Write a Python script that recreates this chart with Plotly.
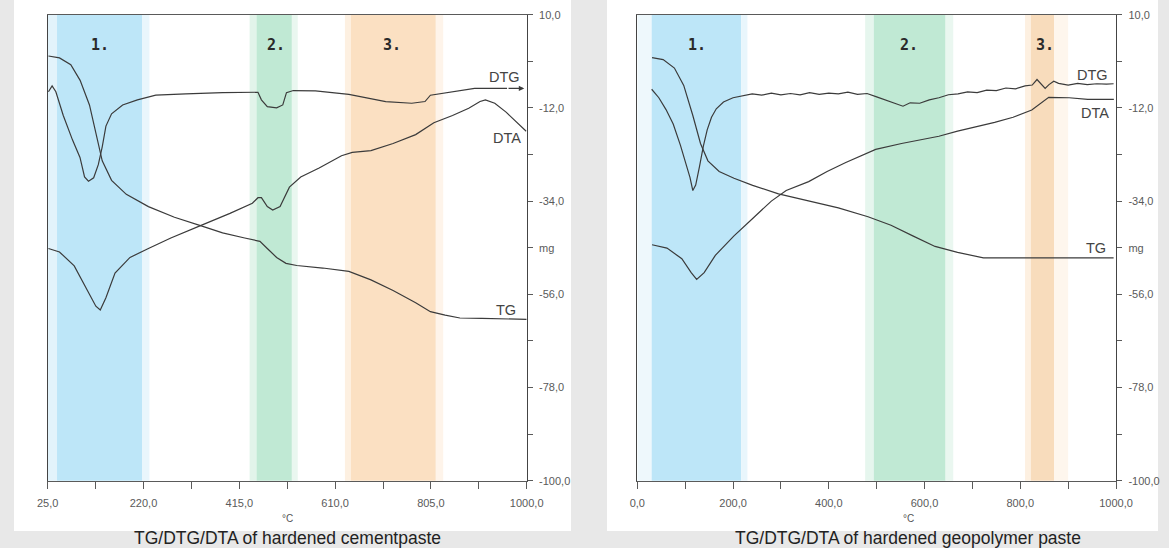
import plotly.graph_objects as go

W, H = 1169, 548

# ---------------- data: hardened cement paste (left) ----------------
cem_tg_t = [26.5, 49, 72, 91, 110, 126, 136, 155, 185, 230, 283, 336, 381, 426, 457, 472, 491, 510, 532, 585, 638, 683, 728, 774, 804, 834, 864, 909, 1000]
cem_tg_v = [0.25, -0.2, -1.8, -5.5, -11.3, -19.6, -24.5, -29.1, -32.4, -35.3, -37.8, -39.8, -41.5, -42.7, -43.5, -45.2, -47.3, -48.7, -49.2, -49.8, -50.6, -52.6, -55.1, -58.0, -60.1, -60.9, -61.6, -61.7, -61.9]

cem_dtg_t = [26.5, 34, 41.6, 56.7, 75.6, 90.7, 100, 108, 118.6, 128, 136, 143.5, 155, 177.5, 207.6, 245, 306, 381, 453, 460, 472, 491, 503.5, 511, 525, 570, 638, 713, 766, 793, 804, 849, 894, 960]
cem_dtg_v = [-8.2, -6.8, -8.2, -13.8, -19.6, -23.7, -28.3, -29.3, -28.5, -25.4, -21.2, -16.3, -13.4, -11.3, -10.1, -9.0, -8.7, -8.4, -8.3, -10.1, -11.7, -12.0, -11.3, -8.4, -7.9, -8.0, -8.8, -10.5, -10.9, -10.5, -9.0, -8.2, -7.4, -7.4]

cem_dta_t = [26.5, 49, 79, 105, 123, 132, 143.5, 162, 192.5, 230, 275.6, 336, 396, 441.6, 453, 460, 472, 483, 498, 517, 540, 577.5, 623, 645, 683, 728, 774, 811, 849, 882, 905, 916, 935, 958, 988, 999]
cem_dta_v = [-45.2, -46.0, -49.3, -55.1, -58.8, -59.7, -56.8, -51.0, -47.3, -45.2, -42.7, -39.8, -36.9, -34.5, -33.2, -33.2, -35.3, -36.1, -35.3, -30.7, -28.3, -26.2, -23.3, -22.5, -22.1, -20.4, -18.3, -15.5, -13.8, -12.1, -10.5, -10.1, -10.9, -13.0, -16.3, -17.5]

cem_x_ticks = [25, 122.5, 220, 317.5, 415, 512.5, 610, 707.5, 805, 902.5, 1000]
cem_x_text = ["25,0", "", "220,0", "", "415,0", "", "610,0", "", "805,0", "", "1000,0"]
cem_bands = [  # (start, end, colour)
    (25, 44, "#e2f3fb"), (44, 217, "#bde6f8"), (217, 232, "#e9f6fc"),
    (436, 450, "#e2f4ea"), (450, 522, "#c0e9d4"), (522, 534, "#eaf7f0"),
    (630, 642, "#fdf0e1"), (642, 815, "#fbe0c2"), (815, 830, "#fef4ea"),
]
cem_band_labels = ["1.", "2.", "3."]
cem_band_label_t = [131, 489, 726]

# ---------------- data: hardened geopolymer paste (right) ----------------
geo_tg_t = [30.8, 54, 77.5, 97, 116, 132, 147.5, 171, 202, 241, 295, 358, 420, 482, 530, 575.5, 622, 669, 723, 824, 995]
geo_tg_v = [-0.15, -0.6, -2.6, -6.7, -13.8, -20.4, -24.5, -27.0, -28.6, -30.3, -32.3, -34.0, -35.6, -37.7, -39.7, -42.2, -44.7, -46.1, -47.4, -47.4, -47.4]

geo_dtg_t = [30, 45, 60, 75, 90, 100, 110, 116, 122, 130, 138, 146, 155, 165, 180, 200, 220, 240, 260, 280, 300, 320, 340, 360, 380, 400, 420, 440, 460, 480, 500, 520, 540, 555, 570, 590, 610, 630, 650, 670, 690, 710, 730, 750, 770, 790, 810, 825, 835, 845, 852, 860, 870, 880, 900, 920, 940, 960, 980, 995]
geo_dtg_v = [-7.6, -9.6, -12.4, -15.8, -20.8, -24.6, -28.4, -31.5, -30.2, -25.8, -21.0, -17.2, -14.2, -12.2, -10.6, -9.6, -9.1, -8.7, -9.0, -8.5, -8.9, -8.6, -8.9, -8.4, -8.8, -8.5, -8.7, -8.3, -8.8, -8.6, -9.4, -10.2, -10.9, -11.6, -10.8, -10.9, -10.1, -9.6, -8.9, -8.7, -8.2, -8.4, -7.8, -7.9, -7.3, -7.5, -6.8, -6.6, -5.3, -6.4, -7.4, -6.5, -5.7, -6.2, -6.6, -6.2, -6.5, -6.3, -6.4, -6.3]

geo_dta_t = [30.8, 62, 93, 112.6, 124, 139.7, 163, 202, 241, 280, 311, 358, 396.5, 435.5, 498, 552, 630, 669, 746.5, 785, 824, 844, 859.5, 902, 941, 995.5]
geo_dta_v = [-44.3, -45.1, -47.6, -50.9, -52.5, -50.9, -46.8, -42.2, -38.1, -34.0, -31.5, -29.4, -27.0, -24.9, -21.8, -20.4, -18.7, -17.5, -15.4, -14.2, -12.5, -10.9, -9.5, -9.6, -10.0, -10.0]

geo_x_ticks = [0, 100, 200, 300, 400, 500, 600, 700, 800, 900, 1000]
geo_x_text = ["0,0", "", "200,0", "", "400,0", "", "600,0", "", "800,0", "", "1000,0"]
geo_bands = [
    (0, 30, "#eef8fc"), (30, 217, "#bde6f8"), (217, 230, "#e9f6fc"),
    (476, 494, "#e6f6ee"), (494, 644, "#c0e9d4"), (644, 660, "#eaf7f0"),
    (810, 822, "#fdf0e1"), (822, 871, "#f8dcbc"), (871, 900, "#fef6ed"),
]
geo_band_labels = ["1.", "2.", "3."]
geo_band_label_t = [124, 567, 852]

# shared y axis (mg)
y_ticks = [10, -1, -12, -23, -34, -45, -56, -67, -78, -89, -100]
y_text = ["10,0", "", "-12,0", "", "-34,0", "mg", "-56,0", "", "-78,0", "", "-100,0"]

titles = ["TG/DTG/DTA of hardened cementpaste", "TG/DTG/DTA of hardened geopolymer paste"]
curve_names = ["DTG", "DTA", "TG"]
cem_name_pos = [(990, -4.7), (992, -19.1), (983, -59.7)]
geo_name_pos = [(987, -4.2), (989, -13.3), (983, -45.1)]

# ---------------- figure ----------------
LINE = dict(color="#3b3b3b", width=1.2)
fig = go.Figure()
for xs, ys in [(cem_tg_t, cem_tg_v), (cem_dtg_t, cem_dtg_v), (cem_dta_t, cem_dta_v)]:
    fig.add_trace(go.Scatter(x=xs, y=ys, xaxis="x", yaxis="y", mode="lines",
                             line=LINE, hoverinfo="skip", showlegend=False))
for xs, ys in [(geo_tg_t, geo_tg_v), (geo_dtg_t, geo_dtg_v), (geo_dta_t, geo_dta_v)]:
    fig.add_trace(go.Scatter(x=xs, y=ys, xaxis="x2", yaxis="y2", mode="lines",
                             line=LINE, hoverinfo="skip", showlegend=False))

def px2paper(px, py):
    return px / W, 1 - py / H

xl0, xl1 = 47.7 / W, 526.7 / W
xr0, xr1 = 637.3 / W, 1116.0 / W
yb, yt = 1 - 480.7 / H, 1 - 14.7 / H

TICKFONT = dict(family="Liberation Sans, Arial", size=11, color="#5a5a5a")
AXLINE = "#5a5a5a"

def xaxis_cfg(domain, rng, tv, tt, anchor):
    return dict(domain=domain, range=rng, anchor=anchor, tickmode="array",
                tickvals=tv, ticktext=tt, ticks="outside", ticklen=7, tickwidth=1,
                tickcolor=AXLINE, showline=True, linecolor=AXLINE, linewidth=1,
                mirror=True, showgrid=False, zeroline=False, tickfont=TICKFONT,
                ticklabelstandoff=5, fixedrange=True, automargin=False)

def yaxis_cfg(anchor):
    return dict(domain=[yb, yt], range=[-100, 10], anchor=anchor, side="right",
                tickmode="array", tickvals=y_ticks, ticktext=y_text, ticks="outside",
                ticklen=5, tickwidth=1, tickcolor=AXLINE, showline=True,
                linecolor="#444444", linewidth=1.4, mirror=True, showgrid=False,
                zeroline=False, tickfont=TICKFONT, ticklabelstandoff=4, fixedrange=True,
                automargin=False)

shapes = []
# background cards
for (a, b) in [(14, 571), (607, 1158)]:
    x0, y0 = px2paper(a, 531)
    x1, y1 = px2paper(b, 0)
    shapes.append(dict(type="rect", xref="paper", yref="paper", x0=x0, x1=x1, y0=y0, y1=y1,
                       fillcolor="white", line=dict(width=0), layer="below"))
# coloured bands
for bands, xr, yr in [(cem_bands, "x", "y domain"), (geo_bands, "x2", "y2 domain")]:
    for s, e, c in bands:
        shapes.append(dict(type="rect", xref=xr, yref=yr, x0=s, x1=e, y0=0, y1=1,
                           fillcolor=c, line=dict(width=0), layer="below"))

annotations = []
for labels, ts, xr, yr in [(cem_band_labels, cem_band_label_t, "x", "y"),
                           (geo_band_labels, geo_band_label_t, "x2", "y2")]:
    for lab, t in zip(labels, ts):
        annotations.append(dict(x=t, y=2.8, xref=xr, yref=yr, text="<b>" + lab + "</b>",
                                showarrow=False, xanchor="center", yanchor="middle",
                                font=dict(family="DejaVu Sans Mono", size=15, color="#2a2a2a")))
for pos, xr, yr in [(cem_name_pos, "x", "y"), (geo_name_pos, "x2", "y2")]:
    for name, (t, v) in zip(curve_names, pos):
        annotations.append(dict(x=t, y=v, xref=xr, yref=yr, text=name, xanchor="right",
                                yanchor="middle", showarrow=False,
                                font=dict(family="Liberation Sans, Arial", size=14.5, color="#444444")))
# arrow at end of cement DTG
annotations.append(dict(x=995, y=-7.4, ax=960, ay=-7.4, xref="x", yref="y", axref="x", ayref="y",
                        text="", showarrow=True, arrowhead=2, arrowsize=0.9, arrowwidth=1.2,
                        arrowcolor="#3b3b3b"))
# °C units and titles
for cx, title in [(287, titles[0]), (908, titles[1])]:
    x, y = px2paper(cx, 518)
    annotations.append(dict(x=x, y=y, xref="paper", yref="paper", text="°C", showarrow=False,
                            xanchor="center", yanchor="middle",
                            font=dict(family="Liberation Sans, Arial", size=10, color="#555555")))
    x, y = px2paper(cx, 538)
    annotations.append(dict(x=x, y=y, xref="paper", yref="paper", text=title, showarrow=False,
                            xanchor="center", yanchor="middle",
                            font=dict(family="Liberation Sans, Arial", size=17.5, color="#222222")))

fig.update_layout(
    width=W, height=H, margin=dict(l=0, r=0, t=0, b=0, pad=0), autosize=False,
    paper_bgcolor="#e8e8e8", plot_bgcolor="white",
    xaxis=xaxis_cfg([xl0, xl1], [25, 1000], cem_x_ticks, cem_x_text, "y"),
    yaxis=yaxis_cfg("x"),
    xaxis2=xaxis_cfg([xr0, xr1], [0, 1000], geo_x_ticks, geo_x_text, "y2"),
    yaxis2=yaxis_cfg("x2"),
    shapes=shapes, annotations=annotations, showlegend=False,
)

fig.write_html("out.html")
